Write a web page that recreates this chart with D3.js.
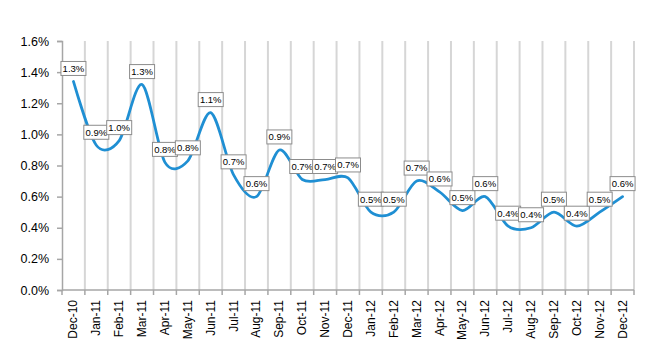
<!DOCTYPE html>
<html>
<head>
<meta charset="utf-8">
<script src="https://cdn.jsdelivr.net/npm/d3@7"></script>
<style>
  html, body { margin: 0; padding: 0; background: #fff; }
  svg { display: block; }
  text { font-family: "Liberation Sans", Arial, sans-serif; }
</style>
</head>
<body>
<svg id="chart" width="650" height="350"></svg>
<script>
const categories = ["Dec-10","Jan-11","Feb-11","Mar-11","Apr-11","May-11","Jun-11","Jul-11","Aug-11","Sep-11","Oct-11","Nov-11","Dec-11",
  "Jan-12","Feb-12","Mar-12","Apr-12","May-12","Jun-12","Jul-12","Aug-12","Sep-12","Oct-12","Nov-12","Dec-12"];
const values = [0.0134,0.0093,0.0096,0.0132,0.0082,0.0083,0.0114,0.0074,0.0060,0.0090,0.0071,0.0071,0.0072,
  0.0050,0.0050,0.0070,0.0063,0.0051,0.0060,0.0041,0.0040,0.0050,0.0041,0.0050,0.0060];
const yTicks = [0,0.002,0.004,0.006,0.008,0.010,0.012,0.014,0.016];

const svg = d3.select("#chart");
const mLeft = 62, mRight = 634, mTop = 41, mBottom = 290;

const x = d3.scaleBand().domain(categories).range([mLeft, mRight]).padding(0);
const y = d3.scaleLinear().domain([0, 0.016]).range([mBottom, mTop]);
const fmt = d3.format(".1%");

// vertical gridlines at category boundaries
const boundaries = categories.map(c => x(c)).concat([mRight]);
svg.append("g").selectAll("line").data(boundaries.slice(1)).join("line")
  .attr("x1", d => d).attr("x2", d => d)
  .attr("y1", mTop).attr("y2", mBottom)
  .attr("stroke", "#d6d6d6").attr("stroke-width", 2);

// y axis
const yAxis = svg.append("g").attr("transform", `translate(${mLeft},0)`)
  .call(d3.axisLeft(y).tickValues(yTicks).tickFormat(d3.format(".1%")).tickSize(5).tickPadding(8));
yAxis.select(".domain").attr("stroke", "#a6a6a6").attr("stroke-width", 1.5);
yAxis.selectAll(".tick line").attr("stroke", "#a6a6a6").attr("stroke-width", 1.5);
yAxis.selectAll("text").attr("font-size", 12.5).attr("fill", "#000")
  .attr("font-family", "'Liberation Sans', Arial, sans-serif");

// x axis
const xAxisG = svg.append("g").attr("transform", `translate(0,${mBottom})`);
xAxisG.append("line").attr("x1", mLeft).attr("x2", mRight).attr("y1", 0).attr("y2", 0)
  .attr("stroke", "#a6a6a6").attr("stroke-width", 1.5);
xAxisG.selectAll("line.tk").data(boundaries).join("line").attr("class", "tk")
  .attr("x1", d => d).attr("x2", d => d).attr("y1", 0).attr("y2", 5)
  .attr("stroke", "#a6a6a6").attr("stroke-width", 1.5);
xAxisG.selectAll("text").data(categories).join("text")
  .attr("transform", d => `translate(${x(d) + x.bandwidth() / 2 + 4},10) rotate(-90)`)
  .attr("text-anchor", "end")
  .attr("font-size", 12).attr("fill", "#000")
  .text(d => d);

// line
const pts = categories.map((c, i) => [x(c) + x.bandwidth() / 2, y(values[i])]);
svg.append("path")
  .attr("d", d3.line().curve(d3.curveCardinal.tension(0.1))(pts))
  .attr("fill", "none").attr("stroke", "#1f8fd3").attr("stroke-width", 2.75)
  .attr("stroke-linecap", "round");

// data labels
const lbl = svg.append("g").selectAll("g").data(categories).join("g")
  .attr("transform", (d, i) => `translate(${pts[i][0]},${pts[i][1] - 13})`);
lbl.append("rect").attr("x", -12.5).attr("y", -7).attr("width", 25).attr("height", 14)
  .attr("fill", "#fff").attr("stroke", "#8c8c8c").attr("stroke-width", 1);
lbl.append("text").attr("text-anchor", "middle").attr("dy", "0.35em")
  .attr("font-size", 9.5).attr("fill", "#000")
  .text((d, i) => fmt(values[i]));
</script>
</body>
</html>
